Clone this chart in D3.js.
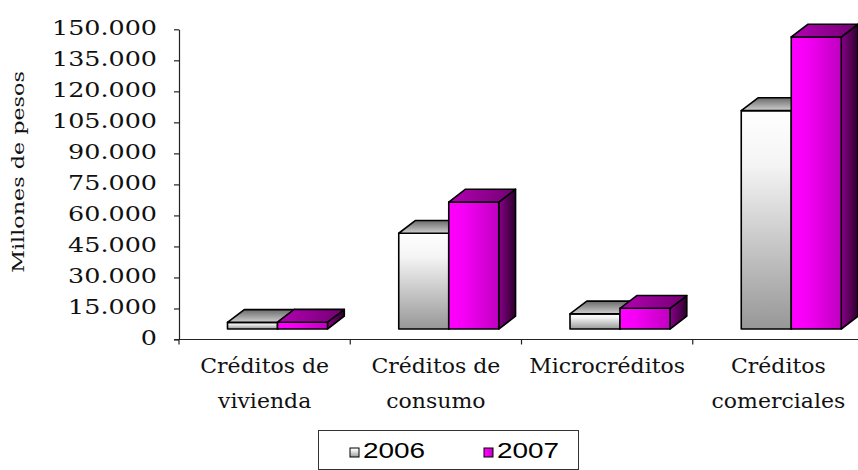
<!DOCTYPE html>
<html>
<head>
<meta charset="utf-8">
<script src="https://cdn.jsdelivr.net/npm/d3@7"></script>
<style>
  html, body { margin: 0; padding: 0; background: #fff; }
  svg { display: block; }
</style>
</head>
<body>
<div id="chart"></div>
<script>
// ---- data ----
const categories = ["Créditos de vivienda", "Créditos de consumo", "Microcréditos", "Créditos comerciales"];
const categoryLines = [["Créditos de", "vivienda"], ["Créditos de", "consumo"], ["Microcréditos"], ["Créditos", "comerciales"]];
const seriesNames = ["2006", "2007"];
const values2006 = [3200, 46300, 7300, 105600];
const values2007 = [3300, 61400, 10000, 141200];
const tickValues = [0, 15000, 30000, 45000, 60000, 75000, 90000, 105000, 120000, 135000, 150000];
const yTitle = "Millones de pesos";

const W = 858, H = 470;
const svg = d3.select("#chart").append("svg").attr("width", W).attr("height", H);
const defs = svg.append("defs");

function grad(id, x2, y2, stops) {
  const g = defs.append("linearGradient").attr("id", id)
    .attr("x1", 0).attr("y1", 0).attr("x2", x2).attr("y2", y2);
  stops.forEach(([o, c]) => g.append("stop").attr("offset", o).attr("stop-color", c));
}
grad("g06front", 0, 1, [[0, "#ffffff"], [0.25, "#f4f4f4"], [1, "#979797"]]);
grad("g06top", 0, 1, [[0, "#6a6a6a"], [1, "#cfcfcf"]]);
grad("g06side", 1, 0, [[0, "#8a8a8a"], [1, "#4a4a4a"]]);
grad("g07front", 1, 0, [[0, "#ff00ff"], [0.3, "#f600f6"], [1, "#c000c0"]]);
grad("g07top", 1, 0, [[0, "#b400b4"], [1, "#720072"]]);
grad("g07side", 1, 0, [[0, "#8a008a"], [1, "#2a002a"]]);

const fills = [
  { front: "url(#g06front)", top: "url(#g06top)", side: "url(#g06side)" },
  { front: "url(#g07front)", top: "url(#g07top)", side: "url(#g07side)" }
];

// scales
const y = d3.scaleLinear().domain([0, 150000]).range([339.5, 29.3]);
const x = d3.scaleBand().domain(categories).range([179, 864]).padding(0);

const fmt = d3.formatLocale({ decimal: ",", thousands: ".", grouping: [3], currency: ["$", ""] }).format(",.0f");

// y axis
const yAxis = svg.append("g").attr("transform", "translate(179,0)")
  .call(d3.axisLeft(y).tickValues(tickValues).tickSize(5).tickSizeOuter(0).tickFormat(fmt));
yAxis.select(".domain").attr("stroke", "#222").attr("stroke-width", 1.2);
yAxis.selectAll(".tick line").attr("stroke", "#222").attr("stroke-width", 1.2);
yAxis.selectAll(".tick text")
  .attr("x", 0).attr("dy", null).attr("y", 5)
  .attr("transform", "translate(-22,0) scale(1.27,1)")
  .attr("fill", "#111")
  .style("font-family", "'DejaVu Serif', serif").style("font-size", "20px");

// y title
svg.append("text")
  .attr("transform", "translate(24,172) rotate(-90) scale(1.31,1)")
  .attr("text-anchor", "middle")
  .style("font-family", "'DejaVu Serif', serif").style("font-size", "17px")
  .attr("fill", "#111")
  .text(yTitle);

// x axis
const baseY = y(0);
svg.append("line").attr("x1", 174).attr("x2", W).attr("y1", baseY).attr("y2", baseY)
  .attr("stroke", "#222").attr("stroke-width", 1.2);
const bounds = categories.map(c => x(c)).concat([x.range()[1]]);
svg.selectAll("line.xtick").data(bounds).enter().append("line").attr("class", "xtick")
  .attr("x1", d => d).attr("x2", d => d).attr("y1", baseY).attr("y2", baseY + 5)
  .attr("stroke", "#222").attr("stroke-width", 1.2);

// category labels
const labG = svg.append("g");
categories.forEach((c, i) => {
  const cx = x(c) + x.bandwidth() / 2;
  categoryLines[i].forEach((line, j) => {
    labG.append("text")
      .attr("transform", `translate(${cx},${373 + j * 35}) scale(1.1,1)`)
      .attr("text-anchor", "middle")
      .style("font-family", "'DejaVu Serif', serif").style("font-size", "20px")
      .attr("fill", "#111")
      .text(line);
  });
});

// 3D bars
const dx = 16.8, dy = -12.8, lift = 10.5, gapLeft = 48.5, barW = 50;
const series = [values2006, values2007];
const barsG = svg.append("g").attr("stroke", "#000").attr("stroke-width", 1.6).attr("stroke-linejoin", "round");
categories.forEach((c, ci) => {
  series.forEach((vals, si) => {
    const x0 = x(c) + gapLeft + si * barW;
    const yt = y(vals[ci]) - lift;
    const yb = y(0) - lift;
    const f = fills[si];
    const g = barsG.append("g");
    g.append("polygon").attr("fill", f.side)
      .attr("points", [[x0 + barW, yt], [x0 + barW + dx, yt + dy], [x0 + barW + dx, yb + dy], [x0 + barW, yb]].join(" "));
    g.append("rect").attr("fill", f.front)
      .attr("x", x0).attr("y", yt).attr("width", barW).attr("height", yb - yt);
    g.append("polygon").attr("fill", f.top)
      .attr("points", [[x0, yt], [x0 + barW, yt], [x0 + barW + dx, yt + dy], [x0 + dx, yt + dy]].join(" "));
  });
});

// legend
const lg = svg.append("g");
lg.append("rect").attr("x", 318.5).attr("y", 430.5).attr("width", 260).attr("height", 39)
  .attr("fill", "#fff").attr("stroke", "#333").attr("stroke-width", 1);
const legendX = [350, 484];
seriesNames.forEach((s, i) => {
  lg.append("rect").attr("x", legendX[i]).attr("y", 448).attr("width", 9).attr("height", 9)
    .attr("fill", fills[i].front).attr("stroke", "#000").attr("stroke-width", 1);
  lg.append("text")
    .attr("transform", `translate(${legendX[i] + 13},457.5) scale(1.27,1)`)
    .style("font-family", "'Liberation Sans', Arial, sans-serif").style("font-size", "22px")
    .attr("fill", "#000")
    .text(s);
});
</script>
</body>
</html>
